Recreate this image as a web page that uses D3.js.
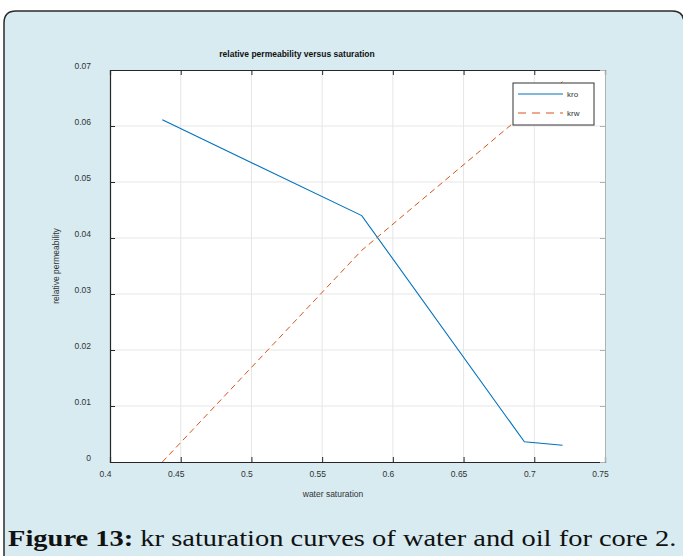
<!DOCTYPE html>
<html>
<head>
<meta charset="utf-8">
<script src="https://cdn.jsdelivr.net/npm/d3@7"></script>
<style>
  html, body { margin: 0; padding: 0; background: #fff; }
  svg { display: block; }
</style>
</head>
<body>
<svg id="chart" width="683" height="556"></svg>
<script>
// Water saturation values and relative permeabilities for core 2
const satKro = [0.437, 0.578, 0.693, 0.72];
const kro = [0.0611, 0.044, 0.0036, 0.003];
const satKrw = [0.437, 0.578, 0.693, 0.72];
const krw = [0.0, 0.0378, 0.0622, 0.0679];
const xTicks = [0.4, 0.45, 0.5, 0.55, 0.6, 0.65, 0.7, 0.75];
const yTicks = [0, 0.01, 0.02, 0.03, 0.04, 0.05, 0.06, 0.07];
const seriesNames = ["kro", "krw"];

const svg = d3.select("#chart");
const W = 683, H = 556;

// panel background with rounded frame
svg.append("path")
  .attr("d", `M4,${H + 5} L4,23 Q4,11 16,11 L672,11 Q684,11 684,23 L684,${H + 5} Z`)
  .attr("fill", "#d7ebf1")
  .attr("stroke", "#2b2b2b")
  .attr("stroke-width", 1.5);

const plot = { left: 110, right: 605, top: 70, bottom: 462 };
const x = d3.scaleLinear().domain([0.4, 0.75]).range([plot.left, plot.right]);
const y = d3.scaleLinear().domain([0, 0.07]).range([plot.bottom, plot.top]);

// white plot area
svg.append("rect")
  .attr("x", plot.left).attr("y", plot.top)
  .attr("width", plot.right - plot.left).attr("height", plot.bottom - plot.top)
  .attr("fill", "#fff");

// grid
const grid = svg.append("g").attr("stroke", "#e6e6e6").attr("stroke-width", 1);
xTicks.slice(1, -1).forEach(t => grid.append("line")
  .attr("x1", x(t)).attr("x2", x(t)).attr("y1", plot.top).attr("y2", plot.bottom));
yTicks.slice(1, -1).forEach(t => grid.append("line")
  .attr("x1", plot.left).attr("x2", plot.right).attr("y1", y(t)).attr("y2", y(t)));

// axes with inward ticks
const tickFont = "Liberation Sans, Arial, sans-serif";
const fmt = d => String(+d.toFixed(2));
const xAxis = svg.append("g").attr("transform", `translate(0,${plot.bottom})`)
  .call(d3.axisBottom(x).tickValues(xTicks).tickSize(-5).tickPadding(9).tickFormat(fmt));
const yAxis = svg.append("g").attr("transform", `translate(${plot.left},0)`)
  .call(d3.axisLeft(y).tickValues(yTicks).tickSize(-5).tickPadding(19).tickFormat(fmt));
const xTop = svg.append("g").attr("transform", `translate(0,${plot.top})`)
  .call(d3.axisTop(x).tickValues(xTicks).tickSize(-5).tickFormat(""));
const yRight = svg.append("g").attr("transform", `translate(${plot.right},0)`)
  .call(d3.axisRight(y).tickValues(yTicks).tickSize(-5).tickFormat(""));

[xAxis, yAxis, xTop].forEach(g => {
  g.select(".domain").attr("stroke", "#262626").attr("stroke-width", 1.2);
  g.selectAll(".tick line").attr("stroke", "#262626");
});
yRight.select(".domain").attr("stroke", "#b0b0b0");
yRight.selectAll(".tick line").attr("stroke", "#b0b0b0");
[xAxis, yAxis].forEach(g => g.selectAll(".tick text")
  .attr("fill", "#333").style("font-family", tickFont).style("font-size", "8.5px"));
xAxis.selectAll(".tick text").attr("dx", "-5");
yAxis.selectAll(".tick text").attr("dy", "-1.5px");

// curves
const line = d3.line().x(d => x(d[0])).y(d => y(d[1]));
svg.append("path")
  .datum(satKro.map((s, i) => [s, kro[i]]))
  .attr("d", line).attr("fill", "none")
  .attr("stroke", "#0072bd").attr("stroke-width", 1.1);
svg.append("path")
  .datum(satKrw.map((s, i) => [s, krw[i]]))
  .attr("d", line).attr("fill", "none")
  .attr("stroke", "#d95319").attr("stroke-width", 1)
  .attr("stroke-dasharray", "6,4");

// legend
const lg = svg.append("g");
lg.append("rect").attr("x", 513).attr("y", 83).attr("width", 81).attr("height", 42)
  .attr("fill", "#fff").attr("stroke", "#333").attr("stroke-width", 1);
const styles = [
  { color: "#0072bd", dash: null },
  { color: "#d95319", dash: "8,6" }
];
seriesNames.forEach((name, i) => {
  const yy = 94 + i * 19;
  lg.append("line").attr("x1", 518).attr("x2", 563).attr("y1", yy).attr("y2", yy)
    .attr("stroke", styles[i].color).attr("stroke-width", 1)
    .attr("stroke-dasharray", styles[i].dash);
  lg.append("text").attr("x", 567).attr("y", yy + 3).text(name)
    .attr("fill", "#333").style("font-family", tickFont).style("font-size", "8px");
});

// titles
svg.append("text").attr("x", 297).attr("y", 57).attr("text-anchor", "middle")
  .text("relative permeability versus saturation")
  .style("font-family", tickFont).style("font-size", "8.5px").style("font-weight", "bold")
  .attr("fill", "#111");
svg.append("text").attr("x", 333).attr("y", 497).attr("text-anchor", "middle")
  .text("water saturation")
  .style("font-family", tickFont).style("font-size", "8.5px").attr("fill", "#333");
svg.append("text")
  .attr("transform", `translate(59,${(plot.top + plot.bottom) / 2}) rotate(-90)`)
  .attr("text-anchor", "middle")
  .text("relative permeability")
  .style("font-family", tickFont).style("font-size", "8.5px").attr("fill", "#333");

// caption, stretched horizontally to span the panel
const capG = svg.append("g").attr("transform", "translate(8,546)");
const cap = capG.append("text")
  .style("font-family", "'Liberation Serif', 'Times New Roman', serif")
  .style("font-size", "23px").attr("fill", "#111");
cap.append("tspan").style("font-weight", "bold").text("Figure 13:");
cap.append("tspan").text(" kr saturation curves of water and oil for core 2.");
const capW = cap.node().getComputedTextLength();
capG.attr("transform", `translate(8,546) scale(${(669 / capW).toFixed(4)},1)`);
</script>
</body>
</html>
